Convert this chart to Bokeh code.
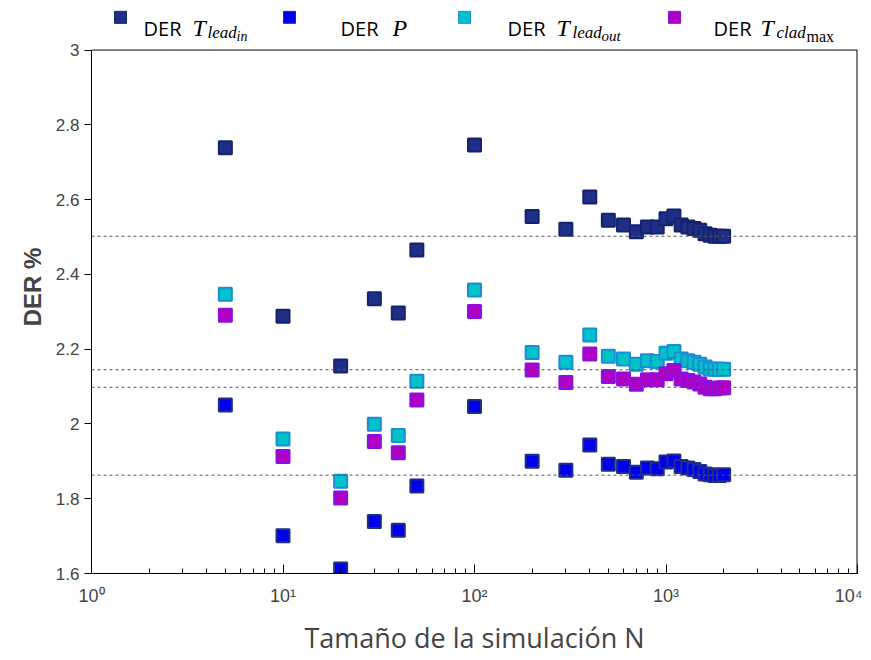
import math
from bokeh.plotting import figure
from bokeh.models import Span, FixedTicker, CustomJSTickFormatter, LogTicker, Range1d
from bokeh.core.properties import value
from bokeh.embed import file_html
from bokeh.resources import INLINE

# ---- data ----
N = [5, 10, 20, 30, 40, 50, 100, 200, 300, 400, 500, 600, 700, 800, 900, 1000,
     1100, 1200, 1300, 1400, 1500, 1600, 1700, 1800, 1900, 2000]
der_lead_in = [2.739, 2.288, 2.155, 2.335, 2.297, 2.465, 2.746, 2.555, 2.521, 2.607,
               2.545, 2.532, 2.514, 2.527, 2.527, 2.549, 2.556, 2.532, 2.527, 2.523,
               2.518, 2.509, 2.505, 2.502, 2.502, 2.502]
der_p = [2.051, 1.701, 1.612, 1.739, 1.716, 1.834, 2.047, 1.900, 1.876, 1.944,
         1.892, 1.886, 1.871, 1.882, 1.880, 1.898, 1.901, 1.886, 1.882, 1.878,
         1.873, 1.866, 1.864, 1.862, 1.862, 1.864]
der_lead_out = [2.347, 1.960, 1.847, 1.999, 1.969, 2.114, 2.358, 2.191, 2.165, 2.238,
                2.181, 2.174, 2.160, 2.169, 2.167, 2.189, 2.194, 2.174, 2.169, 2.165,
                2.160, 2.152, 2.147, 2.146, 2.146, 2.146]
der_clad_max = [2.291, 1.913, 1.802, 1.953, 1.923, 2.064, 2.301, 2.144, 2.111, 2.187,
                2.127, 2.120, 2.106, 2.118, 2.118, 2.134, 2.143, 2.120, 2.116, 2.112,
                2.107, 2.098, 2.094, 2.094, 2.096, 2.097]
ref_levels = [2.502, 2.145, 2.098, 1.863]
y_ticks = [1.6, 1.8, 2.0, 2.2, 2.4, 2.6, 2.8, 3.0]
x_min, x_max = 1, 10000
y_min, y_max = 1.6, 3.0

series = [
    (der_lead_in, "#1f2f87", "#13236c"),
    (der_p, "#0000f0", "#1f2f87"),
    (der_lead_out, "#00c2c8", "#1a8ed4"),
    (der_clad_max, "#b000c4", "#8a12e0"),
]

# ---- layout (pixels) ----
W, H = 862, 658
BL, BR, BB = 91, 5, 80
AX_TOP = 50                      # pixel row where the axes box starts (y = 3)
FRAME_W = W - BL - BR
FRAME_H = H - BB                 # frame spans the full height above the x axis
AX_H = FRAME_H - AX_TOP
y_top = y_max + (y_max - y_min) * AX_TOP / AX_H   # extra room above the box for the legend

def px_x(px):
    """page pixel column -> data x (log scale)"""
    return 10 ** (math.log10(x_min) + (px - BL) / FRAME_W * (math.log10(x_max) - math.log10(x_min)))

def px_y(py):
    """page pixel row -> data y"""
    return y_top - py / FRAME_H * (y_top - y_min)

p = figure(width=W, height=H, x_axis_type="log", output_backend="svg",
           toolbar_location=None, x_range=Range1d(x_min, x_max), y_range=Range1d(y_min, y_top),
           min_border_left=BL, min_border_right=BR, min_border_top=0, min_border_bottom=BB)
p.xgrid.visible = False
p.ygrid.visible = False
p.outline_line_color = None
p.background_fill_color = "white"
p.border_fill_color = "white"

# axes box: top edge and right edge
p.add_layout(Span(location=y_max, dimension="width", line_color="black", line_width=1))
p.segment(x0=[x_max], y0=[y_min], x1=[x_max], y1=[y_max], line_color="black", line_width=2)

for lv in ref_levels:
    p.add_layout(Span(location=lv, dimension="width", line_color="#555555",
                      line_width=1, line_dash="3 3"))

for vals, fill, line in series:
    p.scatter(N, vals, marker="square", size=13, fill_color=fill, line_color=line,
              line_width=2)

# ---- legend (drawn by hand to reproduce the math-style subscripts) ----
sq_x = [120, 289, 464, 674]
der_x = [143, 340, 507, 713]
# (text, page x, baseline page y, size, style)
math_parts = [
    [("T", 192, 28, 24, "italic"), ("lead", 207, 32, 17, "italic"), ("in", 236, 36, 14, "italic")],
    [("P", 392, 28, 24, "italic")],
    [("T", 556, 28, 24, "italic"), ("lead", 572, 32, 17, "italic"), ("out", 601, 36, 15, "italic")],
    [("T", 760, 28, 24, "italic"), ("clad", 776, 32, 17, "italic"), ("max", 806, 36, 16, "normal")],
]
for i, (vals, fill, line) in enumerate(series):
    p.scatter([px_x(sq_x[i])], [px_y(17)], marker="square", size=12, fill_color=fill,
              line_color=line, line_width=1)
    p.text([px_x(der_x[i])], [px_y(28)], text=["DER"], text_font=value("Open Sans"),
           text_font_size="20px", text_baseline="alphabetic", text_align="left",
           text_color="black")
    for (txt, x, yb, fs, style) in math_parts[i]:
        p.text([px_x(x)], [px_y(yb)], text=[txt], text_font=value("Liberation Serif"),
               text_font_style=style, text_font_size=f"{fs}px",
               text_baseline="alphabetic", text_align="left", text_color="black")

# ---- axes ----
xa = p.xaxis[0]
xa.ticker = LogTicker(desired_num_ticks=5, num_minor_ticks=10)
xa.formatter = CustomJSTickFormatter(code="""
const sup = {"0":"\u2070","1":"\u00b9","2":"\u00b2","3":"\u00b3","4":"\u2074"};
const e = Math.round(Math.log10(tick));
return "10" + String(e).split("").map(c => sup[c]).join("");
""")
xa.major_tick_in = 9
xa.major_tick_out = 0
xa.minor_tick_in = 5
xa.minor_tick_out = 0
xa.major_label_text_font = "Liberation Sans"
xa.major_label_text_font_size = "18px"
xa.major_label_standoff = 12
xa.axis_label = "Tamaño de la simulación N"
xa.axis_label_text_font = "Open Sans"
xa.axis_label_text_font_style = "normal"
xa.axis_label_text_font_size = "27px"
xa.axis_label_standoff = 10
xa.axis_line_color = "black"

ya = p.yaxis[0]
ya.ticker = FixedTicker(ticks=y_ticks)
ya.bounds = (y_min, y_max)
ya.formatter = CustomJSTickFormatter(code="return String(Math.round(tick*10)/10);")
ya.major_tick_in = 0
ya.major_tick_out = 7
ya.minor_tick_line_color = None
ya.major_label_text_font = "Liberation Sans"
ya.major_label_text_font_size = "17px"
ya.major_label_standoff = 5
ya.axis_label = "DER %"
ya.axis_label_text_font = "Liberation Sans"
ya.axis_label_text_font_style = "bold"
ya.axis_label_text_font_size = "24px"
ya.axis_label_standoff = 7

open("out.html", "w").write(file_html(p, INLINE))
